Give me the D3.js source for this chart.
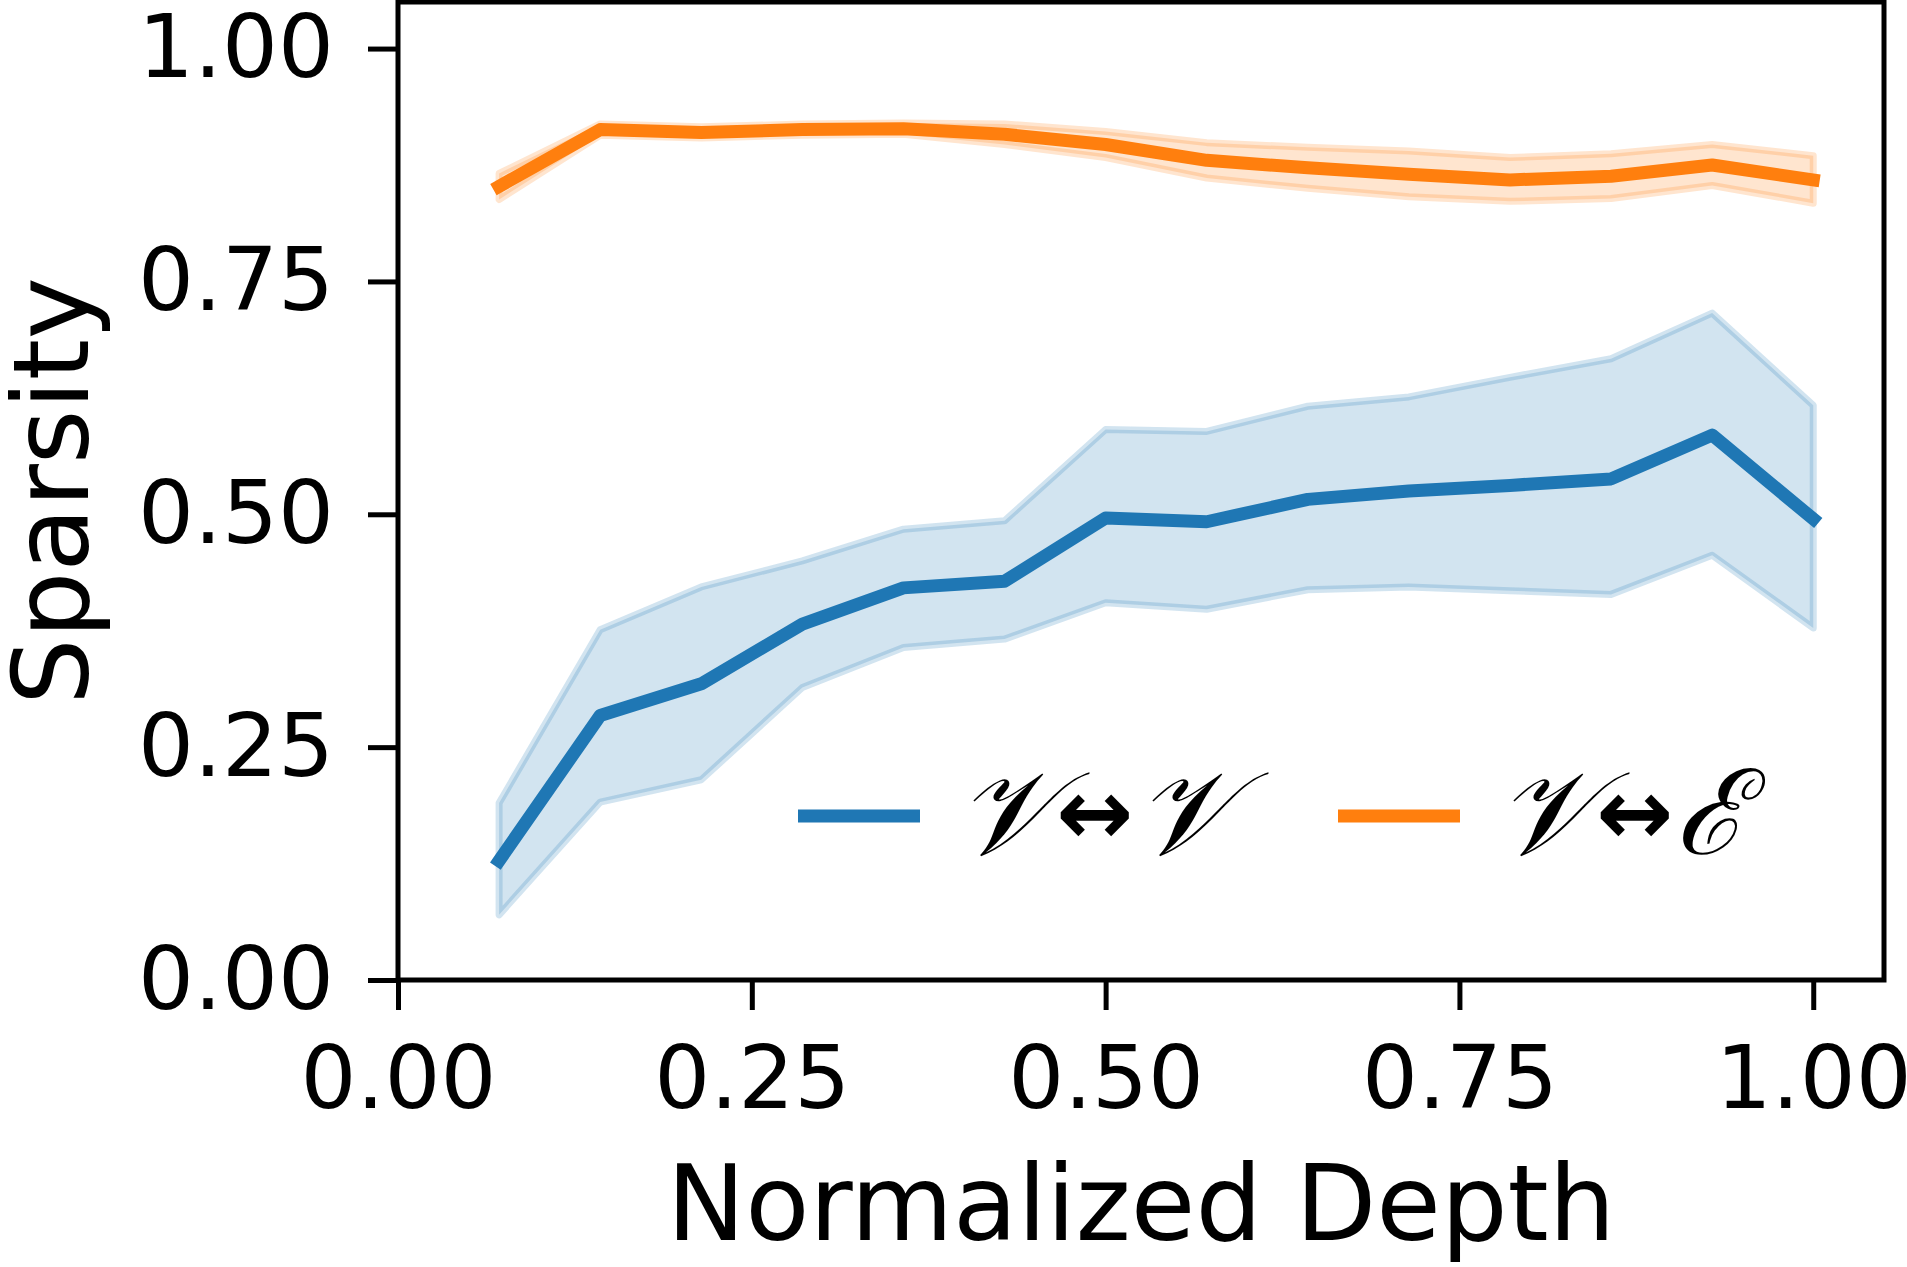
<!DOCTYPE html>
<html lang="en">
<head>
<meta charset="UTF-8">
<title>Sparsity vs depth</title>
<script src="https://cdn.jsdelivr.net/npm/d3@7"></script>
<style>
	body { margin: 0; background: white; }
	svg { display: block; font-family: "DejaVu Sans", sans-serif; }
</style>
</head>
<body>
<div id="chart"></div>
<script>
// ---------------- data ----------------
const depth = [1/14, 2/14, 3/14, 4/14, 5/14, 6/14, 7/14, 8/14, 9/14, 10/14, 11/14, 12/14, 13/14, 1];

// V <-> V
const vvMean  = [0.128, 0.284, 0.318, 0.382, 0.421, 0.428, 0.496, 0.492, 0.516, 0.525, 0.531, 0.538, 0.585, 0.495];
const vvUpper = [0.190, 0.376, 0.422, 0.450, 0.484, 0.493, 0.591, 0.589, 0.616, 0.626, 0.647, 0.667, 0.716, 0.617];
const vvLower = [0.070, 0.191, 0.215, 0.314, 0.357, 0.366, 0.405, 0.398, 0.419, 0.422, 0.418, 0.414, 0.456, 0.378];

// V <-> E
const veMean  = [0.852, 0.913, 0.910, 0.913, 0.914, 0.908, 0.897, 0.880, 0.872, 0.865, 0.859, 0.863, 0.875, 0.859];
const veUpper = [0.866, 0.919, 0.916, 0.919, 0.920, 0.919, 0.911, 0.899, 0.894, 0.890, 0.883, 0.887, 0.897, 0.885];
const veLower = [0.838, 0.907, 0.904, 0.907, 0.908, 0.897, 0.883, 0.861, 0.850, 0.841, 0.836, 0.839, 0.853, 0.834];

const xTicks = [0, 0.25, 0.5, 0.75, 1.0];
const yTicks = [0, 0.25, 0.5, 0.75, 1.0];

const series = [
	{ label: "𝒱", target: "𝒱", color: "#1f77b4", mean: vvMean, upper: vvUpper, lower: vvLower },
	{ label: "𝒱", target: "ℰ", color: "#ff7f0e", mean: veMean, upper: veUpper, lower: veLower }
];

// ---------------- layout ----------------
const W = 1907, H = 1267;
const plot = { left: 398, right: 1884, top: 2, bottom: 980 };

const svg = d3.select("#chart").append("svg")
	.attr("width", W)
	.attr("height", H);

const x = d3.scaleLinear().domain([0, 1.05]).range([plot.left, plot.right]);
const y = d3.scaleLinear().domain([0, 1.05]).range([plot.bottom, plot.top]);

// bands first, then mean lines on top
const area = d3.area()
	.x((d, i) => x(depth[i]))
	.y0(d => y(d[0]))
	.y1(d => y(d[1]));

const line = d3.line()
	.x((d, i) => x(depth[i]))
	.y(d => y(d));

series.forEach(s => {
	svg.append("path")
		.datum(s.lower.map((v, i) => [v, s.upper[i]]))
		.attr("d", area)
		.attr("fill", s.color)
		.attr("fill-opacity", 0.2)
		.attr("stroke", s.color)
		.attr("stroke-opacity", 0.2)
		.attr("stroke-width", 7)
		.attr("stroke-linejoin", "round");
});

series.forEach(s => {
	svg.append("path")
		.datum(s.mean)
		.attr("d", line)
		.attr("fill", "none")
		.attr("stroke", s.color)
		.attr("stroke-width", 13)
		.attr("stroke-linejoin", "round")
		.attr("stroke-linecap", "square");
});

// ---------------- axes ----------------
const tickFont = 88;

const xAxis = svg.append("g")
	.attr("transform", `translate(0,${plot.bottom})`)
	.call(d3.axisBottom(x).tickValues(xTicks).tickFormat(d3.format(".2f")).tickSize(30).tickPadding(36));

const yAxis = svg.append("g")
	.attr("transform", `translate(${plot.left},0)`)
	.call(d3.axisLeft(y).tickValues(yTicks).tickFormat(d3.format(".2f")).tickSize(30).tickPadding(34));

[xAxis, yAxis].forEach(g => {
	g.select(".domain").remove();
	g.selectAll(".tick line").attr("stroke", "black").attr("stroke-width", 5);
	g.selectAll(".tick text")
		.attr("fill", "black")
		.style("font-size", tickFont + "px")
		.style("font-family", "DejaVu Sans");
});

// frame
svg.append("rect")
	.attr("x", plot.left)
	.attr("y", plot.top)
	.attr("width", plot.right - plot.left)
	.attr("height", plot.bottom - plot.top)
	.attr("fill", "none")
	.attr("stroke", "black")
	.attr("stroke-width", 5);

// axis labels
svg.append("text")
	.attr("x", (plot.left + plot.right) / 2)
	.attr("y", 1240)
	.attr("text-anchor", "middle")
	.style("font-size", "105px")
	.text("Normalized Depth");

svg.append("text")
	.attr("transform", `translate(88,${(plot.top + plot.bottom) / 2}) rotate(-90)`)
	.attr("text-anchor", "middle")
	.style("font-size", "105px")
	.text("Sparsity");

// ---------------- legend ----------------
const legendX = [798, 1338];
const legendY = 816;

series.forEach((s, i) => {
	const g = svg.append("g").attr("transform", `translate(${legendX[i]},${legendY})`);
	g.append("line")
		.attr("x1", 0).attr("x2", 122)
		.attr("y1", 0).attr("y2", 0)
		.attr("stroke", s.color)
		.attr("stroke-width", 13);
	const t = g.append("text")
		.attr("x", 158)
		.attr("y", 38)
		.style("font-size", "118px");
	t.append("tspan").style("font-family", "DejaVu Serif").style("font-style", "italic").text(s.label);
	t.append("tspan").attr("dx", 2).attr("dy", -10).style("font-weight", "bold").style("font-size", "92px").text("↔");
	t.append("tspan").attr("dx", 2).attr("dy", 10).style("font-family", "DejaVu Serif").style("font-style", "italic").text(s.target);
});
</script>
</body>
</html>
